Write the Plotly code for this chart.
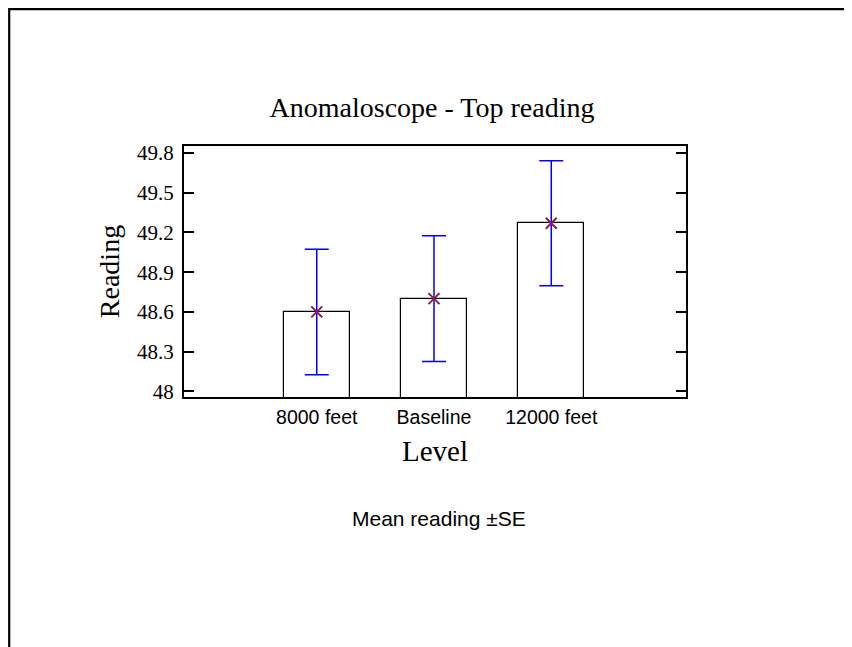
import plotly.graph_objects as go

levels = ["8000 feet", "Baseline", "12000 feet"]
means = [48.60, 48.70, 49.27]
se = [0.474, 0.475, 0.472]
ytick_vals = [48.0, 48.3, 48.6, 48.9, 49.2, 49.5, 49.8]
ytick_text = ["48", "48.3", "48.6", "48.9", "49.2", "49.5", "49.8"]

# page body adds an 8px offset; work in figure coordinates
OFF = 8
W, H = 852 - OFF, 647 - OFF
L, R, T, B = 184 - OFF, 686 - OFF, 146 - OFF, 397 - OFF

fig = go.Figure()
fig.add_trace(go.Bar(
    x=list(range(len(levels))), y=means, width=0.563,
    marker=dict(color="white", line=dict(color="black", width=1.2)),
    showlegend=False, hoverinfo="skip",
))
fig.add_trace(go.Scatter(
    x=list(range(len(levels))), y=means, mode="markers",
    marker=dict(symbol="x-thin-open", size=11, color="#8B1A50",
                line=dict(color="#8B1A50", width=2)),
    error_y=dict(type="data", array=se, visible=True, color="#0000FF",
                 thickness=1.5, width=12),
    showlegend=False,
))

def px_to_paper_x(px):
    return (px - OFF - L) / (R - L)

def px_to_paper_y(py):
    return (B - (py - OFF)) / (B - T)

# outer frame (left and top lines, extends past the window)
fig.add_shape(type="rect", xref="paper", yref="paper",
              x0=px_to_paper_x(9.2), x1=px_to_paper_x(900),
              y0=px_to_paper_y(700), y1=px_to_paper_y(9.2),
              line=dict(color="black", width=2.2), layer="below")

fig.update_layout(
    width=W, height=H,
    margin=dict(l=L, r=W - R, t=T, b=H - B, pad=0),
    paper_bgcolor="white", plot_bgcolor="white",
    bargap=0,
    title=dict(text="Anomaloscope - Top reading", x=(432 - OFF) / W, xanchor="center",
               y=1 - (107 - OFF) / H, yanchor="middle",
               font=dict(family="Liberation Serif", size=28, color="black")),
    xaxis=dict(
        range=[-1.132, 3.149], tickmode="array",
        tickvals=list(range(len(levels))), ticktext=levels,
        showgrid=False, zeroline=False, ticks="",
        showline=True, linecolor="black", linewidth=2, mirror=True,
        ticklabelstandoff=2,
        tickfont=dict(family="Liberation Sans", size=19.5, color="black"),
        title=dict(text="Level", standoff=13,
                   font=dict(family="Liberation Serif", size=29, color="black")),
    ),
    yaxis=dict(
        range=[47.957, 49.853], tickmode="array",
        tickvals=ytick_vals, ticktext=ytick_text,
        showgrid=False, zeroline=False,
        ticks="inside", ticklen=10, tickwidth=2, tickcolor="black",
        showline=True, linecolor="black", linewidth=2, mirror="ticks",
        ticklabelstandoff=4,
        tickfont=dict(family="Liberation Serif", size=21, color="black"),
        title=dict(text="Reading", standoff=9,
                   font=dict(family="Liberation Serif", size=28, color="black")),
    ),
    annotations=[dict(
        text="Mean reading ±SE", xref="paper", yref="paper",
        x=px_to_paper_x(439), y=px_to_paper_y(518),
        xanchor="center", yanchor="middle", showarrow=False,
        font=dict(family="Liberation Sans", size=21, color="black"),
    )],
)

fig.write_html("out.html")
